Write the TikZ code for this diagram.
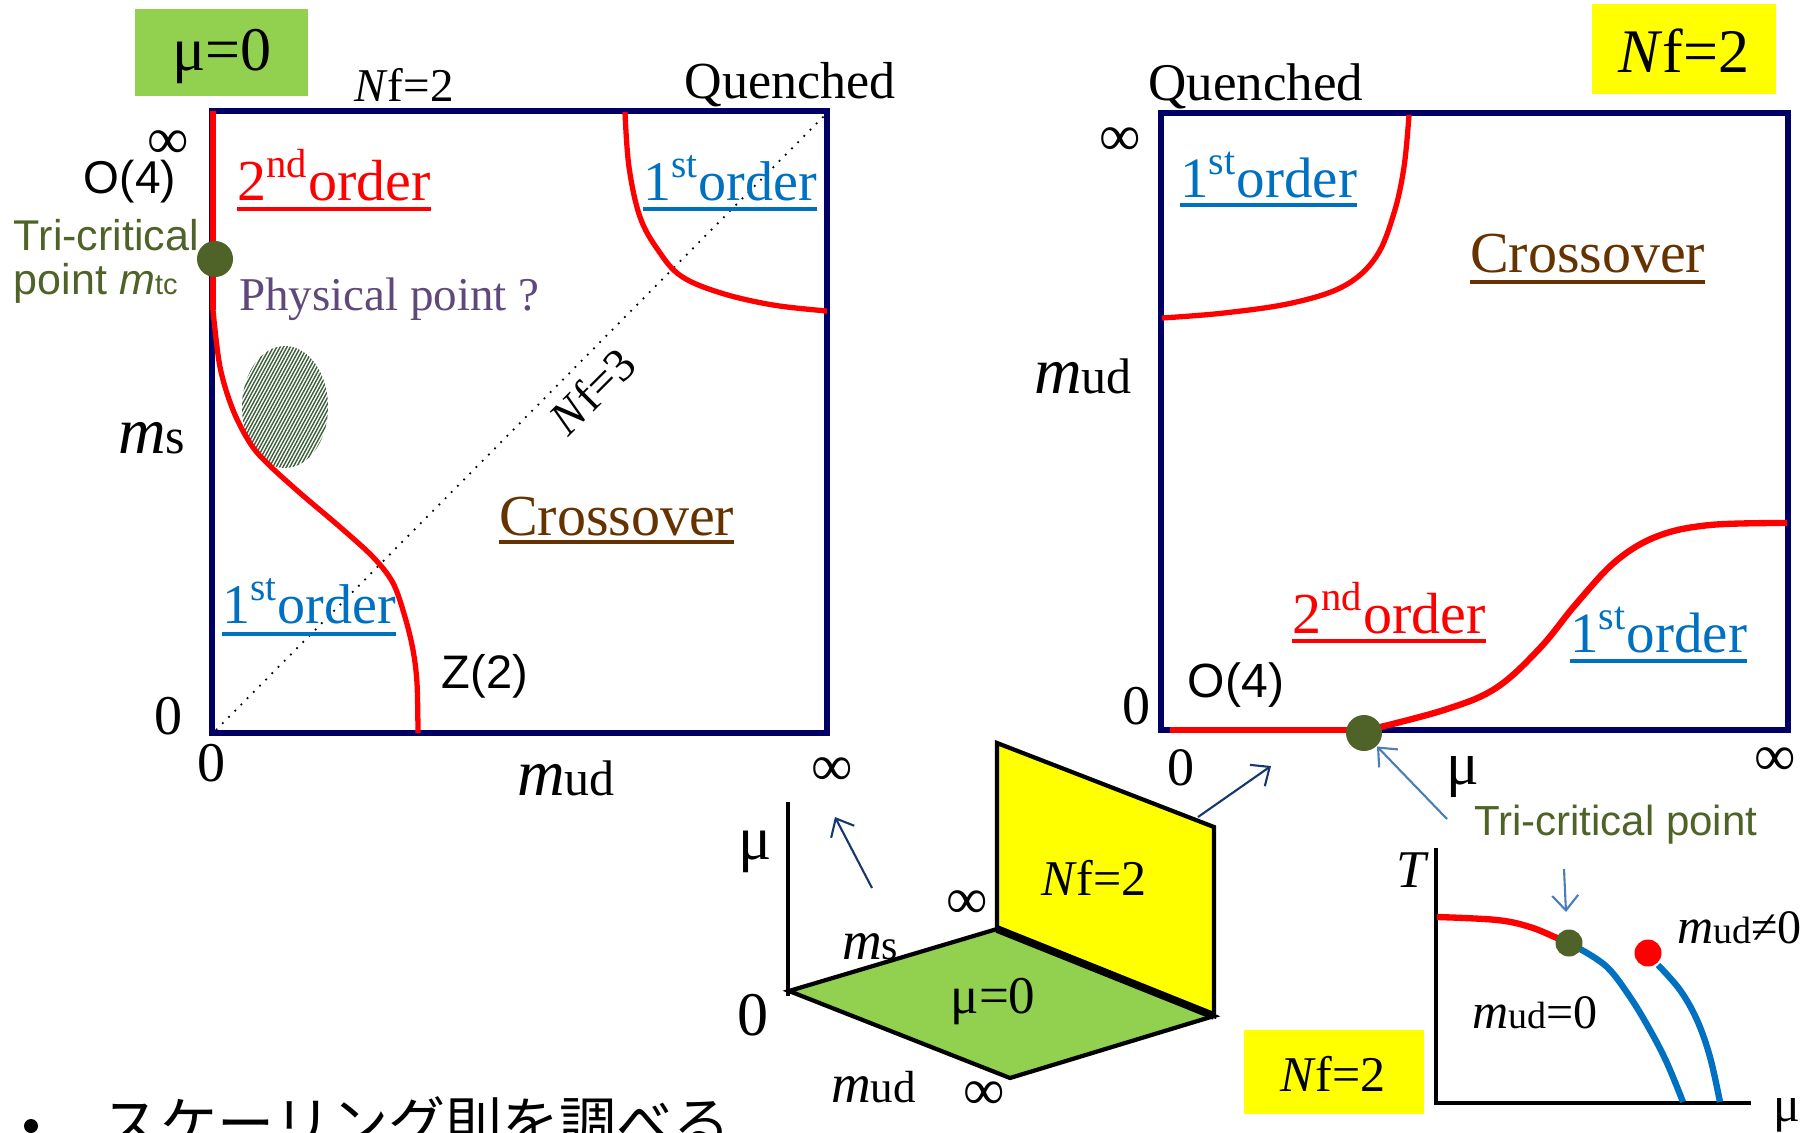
\documentclass[tikz,border=0pt]{standalone}
\usepackage{fontspec}
\setmainfont{Liberation Serif}
\setsansfont{Liberation Sans}
\newfontfamily\jpfont{Noto Sans CJK JP}
\usetikzlibrary{arrows.meta,calc}
\newcommand\px[1]{\fontsize{\fpeval{#1*0.2845}}{\fpeval{#1*0.3}}\selectfont}
\newcommand\Nf{\textit{N}f}
\definecolor{navy}{RGB}{0,0,102}
\definecolor{pred}{RGB}{255,0,0}
\definecolor{pblue}{RGB}{0,112,192}
\definecolor{olive}{RGB}{79,98,40}
\definecolor{crossbrown}{RGB}{102,51,0}
\definecolor{purp}{RGB}{95,73,122}
\definecolor{pgreen}{RGB}{146,208,80}
\definecolor{pyellow}{RGB}{255,255,0}
\definecolor{arrnavy}{RGB}{23,55,110}
\definecolor{arrlight}{RGB}{74,126,187}
\definecolor{hatchc}{RGB}{60,95,60}
\newcommand\ulin[3]{\draw[#1,line width=1.1pt] ($(#2.base west)+(0,#3)$) -- ($(#2.base east)+(0,#3)$);}
\begin{document}
\begin{tikzpicture}[x=0.01cm,y=-0.01cm,
  t/.style={inner sep=0pt,outer sep=0pt},
  boxline/.style={draw=navy,line width=1.5pt},
  redline/.style={draw=pred,line width=1.5pt},
  redthick/.style={draw=pred,line width=1.8pt},
  bluethick/.style={draw=pblue,line width=1.8pt},
  tdot/.style={circle,fill=olive,inner sep=0pt,minimum size=0.36cm},
  sdot/.style={circle,inner sep=0pt,minimum size=0.27cm},
  navyarr/.style={draw=arrnavy,line width=0.6pt,-{Straight Barb[length=1.5mm,width=2.6mm]}},
  lightarr/.style={draw=arrlight,line width=0.6pt,-{Straight Barb[length=1.5mm,width=2.6mm]}},
  edge3d/.style={draw=black,line width=1.2pt,line join=miter},
]
\path[use as bounding box] (0,0) rectangle (1814,1133);

%%%%%%%%%%%%%%%% LEFT PANEL %%%%%%%%%%%%%%%%
\fill[pgreen] (135,9) rectangle (308,96);
\node[t,font=\px{62}] (muzero) at (222,57) {μ=0};
\node[t,font=\px{47},anchor=base] (nftop) at (404,101) {\Nf=2};
\node[t,font=\px{52},anchor=base] (quenL) at (790,98) {Quenched};

% hatched ellipse
\begin{scope}
\clip (285,407) ellipse [x radius=43, y radius=61];
\foreach \i in {-26,...,26} {
  \draw[hatchc,line width=0.4pt] ({285+\i*3.4-38},{407+70}) -- ({285+\i*3.4+38},{407-70});
}
\end{scope}

\draw[boxline] (212,111) rectangle (827,733);
\draw[dotted,line width=0.5pt] (216,730) -- (826,114);

\draw[redline] (213,111) -- (213,310);
\draw[redline] plot[smooth,tension=0.55] coordinates {(213,310) (220,367) (233,410) (250,443) (267,463) (300,493) (340,527) (373,557) (393,583) (405,617) (413,650) (417,683) (418,733)};
\draw[redline] plot[smooth,tension=0.6] coordinates {(625,112) (629,167) (640,217) (658,250) (681,276) (721,293) (773,305) (827,311)};

\node[tdot] (tcL) at (215,259) {};

\node[t,font=\px{58}] (infL1) at (168,145) {∞};
\node[t,font=\sffamily\px{46}] (o4L) at (130,182) {O(4)};
\node[t,font=\sffamily\px{43},text=olive,anchor=base west] (triL1) at (14,250) {Tri-critical};
\node[t,font=\sffamily\px{43},text=olive,anchor=base west] (triL2) at (14,294) {point \textit{m}{\px{29}tc}};
\node[t,font=\px{47},text=purp,anchor=base west] (phys) at (239,310) {Physical point ?};

\node[t,font=\px{58},text=pred,anchor=base west] (ord2L) at (237,200) {2\textsuperscript{nd}order};
\ulin{pred}{ord2L}{9}
\node[t,font=\px{56},text=pblue,anchor=base west] (ord1LT) at (643,200) {1\textsuperscript{st}order};
\ulin{pblue}{ord1LT}{9}
\node[t,font=\px{58},text=crossbrown,anchor=base west] (crossL) at (499,535) {Crossover};
\ulin{crossbrown}{crossL}{7}
\node[t,font=\px{56},text=pblue,anchor=base west] (ord1LB) at (222,623) {1\textsuperscript{st}order};
\ulin{pblue}{ord1LB}{11}

\node[t,font=\px{47},rotate=45] (nf3) at (592,391) {\Nf=3};
\node[t,anchor=base west] (msL) at (118,453) {{\px{66}\itshape m}{\px{50}s}};
\node[t,font=\px{56}] (zeroL1) at (169,716) {0};
\node[t,font=\px{56}] (zeroL2) at (212,763) {0};
\node[t,anchor=base west] (mudL) at (517,795) {{\px{66}\itshape m}{\px{50}ud}};
\node[t,font=\px{58}] (infL2) at (832,772) {∞};
\node[t,font=\sffamily\px{47}] (z2) at (485,676) {Z(2)};

%%%%%%%%%%%%%%%% RIGHT PANEL %%%%%%%%%%%%%%%%
\fill[pyellow] (1592,4) rectangle (1776,94);
\node[t,font=\px{62},anchor=base] (nfR) at (1684,72) {\Nf=2};
\node[t,font=\px{53},anchor=base] (quenR) at (1256,100) {Quenched};
\draw[boxline] (1161,113) rectangle (1788,730);

\draw[redline] plot[smooth,tension=0.6] coordinates {(1409,115) (1404,167) (1394,213) (1376,257) (1344,286) (1292,303) (1224,313) (1162,318)};
\draw[redthick] (1170,730) -- (1364,730);
\draw[redthick] plot[smooth,tension=0.6] coordinates {(1364,731) (1444,710) (1496,688) (1540,648) (1576,604) (1616,561) (1658,536) (1710,525) (1787,523)};
\node[tdot] (tcR) at (1364,733) {};

\node[t,font=\px{58}] (infR1) at (1120,142) {∞};
\node[t,font=\px{57},text=pblue,anchor=base west] (ord1RT) at (1180,197) {1\textsuperscript{st}order};
\ulin{pblue}{ord1RT}{8}
\node[t,font=\px{58},text=crossbrown,anchor=base west] (crossR) at (1470,272) {Crossover};
\ulin{crossbrown}{crossR}{10}
\node[t,anchor=base west] (mudR) at (1034,393) {{\px{66}\itshape m}{\px{50}ud}};
\node[t,font=\px{58},text=pred,anchor=base west] (ord2R) at (1292,633) {2\textsuperscript{nd}order};
\ulin{pred}{ord2R}{8}
\node[t,font=\px{57},text=pblue,anchor=base west] (ord1RB) at (1570,652) {1\textsuperscript{st}order};
\ulin{pblue}{ord1RB}{9}
\node[t,font=\sffamily\px{48}] (o4R) at (1236,685) {O(4)};
\node[t,font=\px{56}] (zeroR1) at (1136,706) {0};
\node[t,font=\px{54}] (zeroR2) at (1181,768) {0};
\node[t,font=\px{61}] (muR) at (1463,777) {μ};
\node[t,font=\px{58}] (infR2) at (1775,762) {∞};

%%%%%%%%%%%%%%%% 3D SKETCH %%%%%%%%%%%%%%%%
\coordinate (O) at (789,991);
\coordinate (A) at (997,929);
\coordinate (B) at (1214,1016);
\coordinate (C) at (1010,1078);
\coordinate (D) at (997,743);
\coordinate (E) at (1214,827);
\filldraw[fill=pyellow,edge3d] (A) -- (D) -- (E) -- (B) -- cycle;
\filldraw[fill=pgreen,edge3d] (O) -- (A) -- (B) -- (C) -- cycle;
\draw[black,line width=2.2pt] (A) -- (B);
\draw[black,line width=1.4pt] (788,802) -- (788,996);

\node[t,font=\px{62}] (mu3d) at (755,852) {μ};
\node[t,font=\px{58}] (inf3d1) at (967,905) {∞};
\node[t,anchor=base west] (ms3d) at (842,959) {{\px{55}\itshape m}{\px{42}s}};
\node[t,font=\px{62}] (zero3d) at (753,1015) {0};
\node[t,anchor=base west] (mud3d) at (831,1102) {{\px{55}\itshape m}{\px{45}ud}};
\node[t,font=\px{58}] (inf3d2) at (984,1096) {∞};
\node[t,font=\px{50},anchor=base] (nf3d) at (1094,895) {\Nf=2};
\node[t,font=\px{53},anchor=base] (mu03d) at (993,1013) {μ=0};

\coordinate (a1s) at (1198,817);
\coordinate (a1e) at (1271,766);
\draw[navyarr] (a1s) -- (a1e);
\coordinate (a2s) at (872,888);
\coordinate (a2e) at (835,817);
\draw[navyarr] (a2s) -- (a2e);

%%%%%%%%%%%%%%%% T-mu PLOT %%%%%%%%%%%%%%%%
\node[t,font=\sffamily\px{42},text=olive,anchor=base west] (triR) at (1474,835) {Tri-critical point};
\coordinate (a3s) at (1447,819);
\draw[lightarr] (a3s) -- (tcR);

\draw[black,line width=1.3pt] (1436,848) -- (1436,1103) -- (1751,1103);
\node[t,font=\itshape\px{53}] (Tlab) at (1411,870) {T};
\node[t,font=\px{50}] (mulab) at (1787,1115) {μ};

\draw[redthick] plot[smooth,tension=0.6] coordinates {(1437,917) (1497,920) (1530,927) (1557,938) (1569,943)};
\draw[bluethick] plot[smooth,tension=0.6] coordinates {(1580,949) (1607,967) (1630,997) (1650,1030) (1667,1063) (1683,1102)};
\draw[bluethick] plot[smooth,tension=0.6] coordinates {(1658,965) (1680,990) (1697,1020) (1710,1057) (1720,1102)};
\node[sdot,fill=olive] (tcS) at (1569,943) {};
\node[sdot,fill=pred] (cpS) at (1648,953) {};
\coordinate (a4s) at (1564,869);
\draw[lightarr] (a4s) -- (1566,912);

\node[t,anchor=base west] (mudne) at (1677,943) {{\px{50}\itshape m}{\px{38}ud}{\px{48}≠0}};
\node[t,anchor=base west] (mudeq) at (1472,1028) {{\px{50}\itshape m}{\px{38}ud}{\px{48}=0}};

\fill[pyellow] (1244,1030) rectangle (1424,1114);
\node[t,font=\px{50},anchor=base] (nfB) at (1333,1091) {\Nf=2};

%%%%%%%%%%%%%%%% BOTTOM TEXT %%%%%%%%%%%%%%%%
\fill[black] (31,1126) circle[radius=7];
\node[t,font=\jpfont\px{57},anchor=base west] (jp) at (103,1144) {スケーリング則を調べる};
\end{tikzpicture}
\end{document}
